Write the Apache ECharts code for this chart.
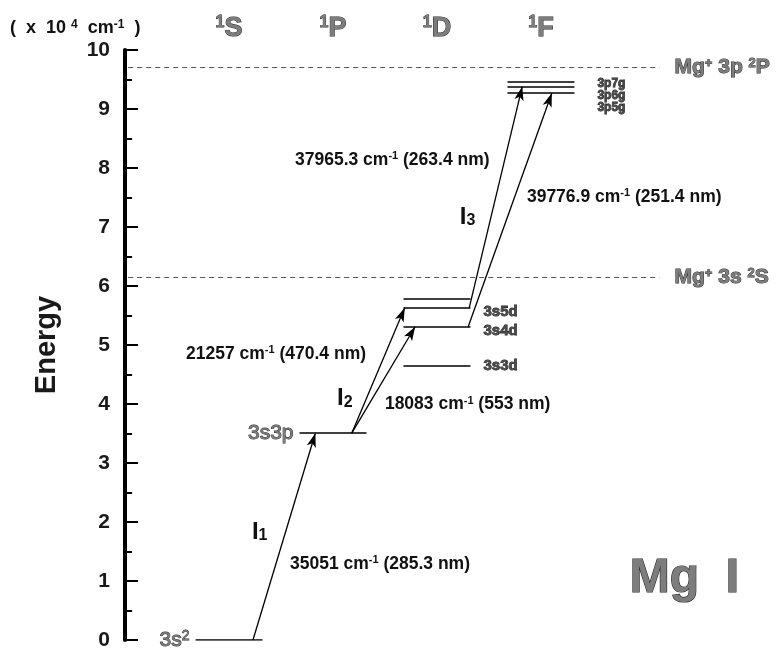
<!DOCTYPE html>
<html>
<head>
<meta charset="utf-8">
<script src="https://cdn.jsdelivr.net/npm/echarts@6/dist/echarts.min.js"></script>
<style>
  html, body { margin: 0; padding: 0; background: #fff; }
  #chart { width: 778px; height: 654px; }
</style>
</head>
<body>
<div id="chart"></div>
<script>
// energy in units of 10^4 cm^-1, column = term (1S, 1P, 1D, 1F)
const levelNames = ['3s{sup|2}', '3s3p', '3s3d', '3s4d', '3s5d', '', '3p5g', '3p6g', '3p7g'];
const levelEnergy = [0, 3.505, 4.64, 5.31, 5.63, 5.78, 9.27, 9.38, 9.47];
const levelColumn = [1, 2, 3, 3, 3, 3, 4, 4, 4];

const termNames = ['S', 'P', 'D', 'F'];

const ionNames = ['Mg{sup|+} 3s {sup|2}S', 'Mg{sup|+} 3p {sup|2}P'];
const ionEnergy = [6.15, 9.7];

// transitions: from level index -> to level index, x where the arrow leaves / lands
const transFrom = [0, 1, 1, 4, 3];
const transTo = [1, 4, 3, 7, 6];
const transX0 = [1.23, 2.18, 2.18, 3.31, 3.30];
const transX1 = [1.83, 2.69, 2.79, 3.82, 4.105];

const yTickLabels = ['0', '1', '2', '3', '4', '5', '6', '7', '8', '9', '10'];

// free text: [text, x, y, kind]
const notes = [
  ['35051 cm{s|-1} (285.3 nm)', 1.586, 1.29, 'n'],
  ['18083 cm{s|-1} (553 nm)', 2.499, 4.0, 'n'],
  ['21257 cm{s|-1} (470.4 nm)', 0.586, 4.85, 'n'],
  ['37965.3 cm{s|-1} (263.4 nm)', 1.634, 8.14, 'n'],
  ['39776.9 cm{s|-1} (251.4 nm)', 3.865, 7.51, 'n'],
  ['I{sub|1}', 1.22, 1.83, 'i'],
  ['I{sub|2}', 2.038, 4.10, 'i'],
  ['I{sub|3}', 3.22, 7.17, 'i'],
  ['(  x  10 {s|4}  cm{s|-1}  )', -1.107, 10.37, 'u'],
  ['Mg  I', 4.855, 1.03, 'big']
];

const FONT = 'Liberation Sans';
const HALF = 0.322;
const GRAY = '#7d7d7d';
const EDGE = '#2a2a2a';

function st(size, color, border, bw, extra) {
  return Object.assign({
    fontFamily: FONT, fontWeight: 'bold', fontSize: size, color: color,
    textBorderColor: border || 'transparent', textBorderWidth: border ? (bw || 1) : 0
  }, extra || {});
}

function grayRich(supSize, weight) {
  return {
    sup: st(supSize, GRAY, EDGE, 0.8, { verticalAlign: 'top', fontWeight: weight || 'bold' })
  };
}

const levelLines = levelEnergy.map((e, i) => ({
  coords: [[levelColumn[i] - HALF, e], [levelColumn[i] + HALF, e]]
}));

const arrows = transFrom.map((f, i) => ({
  coords: [[transX0[i], levelEnergy[f]], [transX1[i], levelEnergy[transTo[i]]]]
}));

const ionLines = ionEnergy.map(e => ({ coords: [[0.03, e], [5.14, e]] }));

// level label placement (pixels)
const levelLabelDy = [0, 0, 0, 4, 4, 0, 15, 9, 2];

const levelLabels = [];
levelNames.forEach((n, i) => {
  if (!n) return;
  const col = levelColumn[i];
  let item;
  if (col <= 2) {
    item = {
      value: [col - HALF, levelEnergy[i]],
      label: {
        position: 'left', distance: 6, formatter: n,
        ...st(21, GRAY, EDGE, 0.9, { fontWeight: 'normal' }),
        rich: grayRich(14, 'normal')
      }
    };
  } else {
    const small = col === 4;
    item = {
      value: [col + HALF, levelEnergy[i]],
      label: {
        position: 'right', distance: small ? 23 : 13, offset: [0, levelLabelDy[i]],
        formatter: n,
        ...st(small ? 12 : 15, '#4a4a4a', '#1a1a1a', 0.8)
      }
    };
  }
  levelLabels.push(item);
});

const termLabels = termNames.map((t, i) => ({
  value: [i + 1, 10.37],
  label: {
    position: 'inside', formatter: '{sup|1}' + t,
    ...st(27, GRAY, EDGE, 1),
    rich: grayRich(16)
  }
}));

const ionLabels = ionEnergy.map((e, i) => ({
  value: [5.14, e],
  label: {
    position: 'right', distance: 15, formatter: ionNames[i],
    ...st(21, GRAY, EDGE, 1),
    rich: grayRich(13)
  }
}));

const noteLabels = notes.map(n => {
  let label;
  if (n[3] === 'n') {
    label = { ...st(17.5, '#111'), rich: { s: st(11, '#111', null, 0, { verticalAlign: 'top' }) } };
  } else if (n[3] === 'u') {
    label = { ...st(18, '#111'), rich: { s: st(12, '#111', null, 0, { verticalAlign: 'top' }) } };
  } else if (n[3] === 'i') {
    label = { ...st(24, '#111'), rich: { sub: st(16, '#111', null, 0, { verticalAlign: 'bottom' }) } };
  } else {
    label = { ...st(48, GRAY, EDGE, 1.2) };
  }
  label.position = 'right';
  label.distance = 0;
  label.formatter = n[0];
  return { value: [n[1], n[2]], label: label };
});

const textSeries = (data) => ({
  type: 'scatter',
  symbolSize: 0,
  silent: true,
  clip: false,
  itemStyle: { opacity: 1 },
  data: data,
  label: { show: true }
});

const chart = echarts.init(document.getElementById('chart'));

chart.setOption({
  animation: false,
  grid: { left: 123, right: 0, top: 50, bottom: 14 },
  xAxis: {
    type: 'value', min: -0.02, max: 6.28, show: false
  },
  yAxis: {
    type: 'value', min: 0, max: 10, interval: 1,
    name: 'Energy',
    nameLocation: 'middle',
    nameRotate: 90,
    nameGap: 62,
    nameTextStyle: { fontFamily: FONT, fontWeight: 'bold', fontSize: 29, color: '#1a1a1a' },
    axisLine: { show: true, lineStyle: { color: '#000', width: 4 } },
    axisTick: { show: true, inside: true, length: 13, lineStyle: { color: '#000', width: 2 } },
    minorTick: { show: true, splitNumber: 2, length: 7, lineStyle: { color: '#000', width: 2 } },
    splitLine: { show: false },
    axisLabel: {
      margin: 13, fontFamily: FONT, fontWeight: 'bold', fontSize: 21, color: '#1a1a1a',
      formatter: v => yTickLabels[Math.round(v)]
    }
  },
  series: [
    {
      type: 'lines', coordinateSystem: 'cartesian2d', silent: true,
      lineStyle: { color: '#555', width: 1.2, type: [5, 4], opacity: 1 },
      data: ionLines
    },
    {
      type: 'lines', coordinateSystem: 'cartesian2d', silent: true,
      lineStyle: { color: '#000', width: 1.6, opacity: 1 },
      data: levelLines
    },
    {
      type: 'lines', coordinateSystem: 'cartesian2d', silent: true,
      symbol: ['none', 'arrow'],
      symbolSize: [1, [7, 14]],
      lineStyle: { color: '#000', width: 1.3, opacity: 1 },
      itemStyle: { color: '#000' },
      data: arrows
    },
    textSeries(levelLabels),
    textSeries(termLabels),
    textSeries(ionLabels),
    textSeries(noteLabels)
  ]
});
</script>
</body>
</html>
